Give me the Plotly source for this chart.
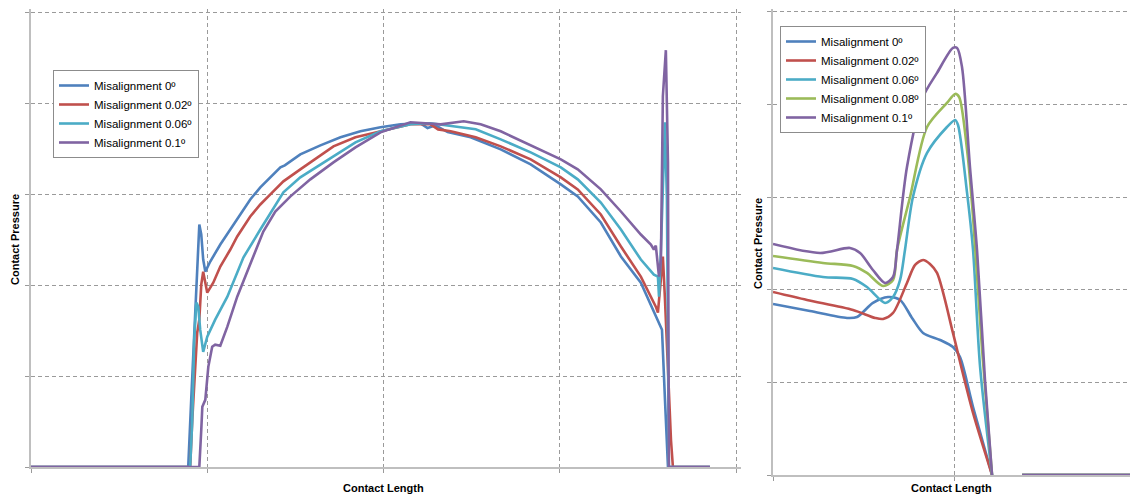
import plotly.graph_objects as go

# ---- Full contact length (left panel) ----
full_x_0 = [0, 8.92, 9.09, 9.26, 9.38, 9.49, 9.55, 9.66, 9.77, 9.89, 10.17, 10.74, 11.31, 11.88, 12.44,
            13.01, 13.58, 14.15, 14.40, 15.28, 16.42, 17.56, 18.69, 19.83, 20.97, 22.10, 22.50, 22.95, 23.64,
            24.94, 26.65, 28.35, 30.06, 31.02, 32.33, 33.47, 34.60, 35.40, 35.80, 35.97, 36.14, 38.52]
full_y_0 = [0, 0, 73.8, 150.9, 205.9, 255.5, 266.5, 255.5, 228.0, 214.7, 225.8, 244.5, 261.0, 277.5, 294.0,
            307.3, 318.3, 329.3, 331.5, 343.6, 353.5, 362.3, 368.9, 373.3, 376.6, 377.7, 372.5, 375.5, 368.0,
            362.3, 349.1, 332.6, 310.6, 297.4, 268.7, 231.3, 202.6, 167.4, 150.9, 73.8, 0, 0]

full_x_002 = [0, 9.03, 9.15, 9.32, 9.43, 9.55, 9.66, 9.77, 9.89, 10.0, 10.34, 10.74, 11.31, 11.70, 12.44,
              13.01, 13.58, 14.32, 15.28, 17.16, 18.41, 19.83, 21.53, 22.67, 23.10, 23.81, 25.23, 26.65, 28.35,
              30.06, 31.02, 32.33, 33.47, 34.60, 35.45, 35.57, 35.68, 35.85, 35.97, 36.14, 36.31, 36.42, 38.52]
full_y_002 = [0, 0, 51.8, 117.8, 147.6, 161.9, 200.4, 214.7, 200.4, 191.6, 202.6, 220.3, 239.0, 253.3, 275.3,
              288.5, 299.6, 313.9, 327.1, 352.4, 362.3, 368.9, 376.6, 376.6, 371.0, 368.9, 362.3, 352.4, 338.1,
              318.3, 305.1, 277.5, 242.3, 209.2, 176.2, 169.6, 194.9, 231.3, 183.9, 106.8, 29.7, 0, 0]

full_x_006 = [0, 9.03, 9.15, 9.26, 9.38, 9.49, 9.60, 9.77, 10.0, 10.45, 11.14, 12.05, 13.01, 14.32, 15.28,
              17.16, 18.41, 19.83, 21.53, 22.67, 23.81, 25.23, 26.65, 28.35, 30.06, 31.02, 32.33, 33.47,
              34.60, 35.34, 35.57, 35.63, 35.74, 35.85, 35.97, 36.08, 36.14, 36.19, 38.52]
full_y_006 = [0, 0, 51.8, 139.9, 180.6, 176.2, 150.9, 126.6, 143.2, 161.9, 187.2, 230.2, 261.0, 301.8, 318.3,
              341.4, 356.8, 368.9, 376.6, 377.7, 374.4, 371.1, 360.1, 345.8, 329.3, 316.1, 290.7, 261.0,
              228.0, 211.4, 209.2, 187.2, 239.0, 316.1, 378.8, 294.0, 150.9, 0, 0]

full_x_01 = [0, 9.55, 9.66, 9.72, 9.89, 10.06, 10.28, 10.45, 10.74, 11.14, 11.70, 12.44, 13.18, 13.86, 14.72,
             15.85, 17.16, 18.41, 19.83, 21.53, 23.24, 24.55, 25.51, 26.65, 28.52, 30.06, 31.02, 32.33,
             33.47, 34.60, 35.17, 35.34, 35.45, 35.63, 35.74, 35.85, 36.02, 36.14, 36.19, 38.52]
full_y_01 = [0, 0, 40.7, 66.1, 73.8, 110.1, 132.2, 134.4, 133.3, 154.2, 187.2, 222.5, 258.8, 280.8, 297.4,
             316.1, 334.8, 351.3, 367.8, 378.8, 376.6, 379.9, 376.6, 368.9, 352.4, 338.1, 327.1, 305.1,
             280.8, 255.5, 244.5, 239.0, 243.4, 209.2, 228.0, 407.5, 458.1, 334.8, 0, 0]

# ---- Contact edge detail (right panel) ----
edge_x_0 = [0, 2.04, 4.09, 4.64, 5.52, 6.35, 7.02, 7.68, 8.29, 9.23, 9.94, 10.33, 11.05, 12.10, None, 13.76, 19.9]
edge_y_0 = [184.7, 177.1, 169.6, 170.6, 185.8, 192.2, 189.0, 169.6, 153.4, 145.8, 138.2, 127.4, 73.4, 0, None, 0, 0]

edge_x_002 = [0, 1.88, 4.42, 5.64, 6.08, 6.63, 7.40, 7.85, 8.29, 8.67, 9.06, 9.94, 10.44, 11.05, 12.10, None, 13.76, 19.9]
edge_y_002 = [197.6, 189.0, 178.2, 169.6, 168.5, 175.0, 207.4, 226.8, 232.2, 227.9, 218.2, 153.4, 113.4, 67.0, 0, None, 0, 0]

edge_x_006 = [0, 2.76, 4.42, 5.19, 6.19, 6.63, 7.02, 7.29, 7.73, 8.51, 9.61, 10.06, 10.22, 10.72, 11.05, 11.44, 12.10, None, 13.76, 19.9]
edge_y_006 = [223.6, 213.8, 211.7, 203.0, 185.8, 192.2, 210.6, 243.0, 300.2, 347.8, 375.8, 383.4, 378.0, 304.6, 243.0, 116.6, 0, None, 0, 0]

edge_x_008 = [0, 2.76, 4.42, 5.19, 6.08, 6.63, 6.85, 7.57, 8.51, 9.61, 10.06, 10.28, 10.72, 11.05, 11.55, 12.10, None, 13.76, 19.9]
edge_y_008 = [236.5, 229.0, 225.7, 218.2, 204.1, 210.6, 243.0, 300.2, 375.8, 401.8, 411.5, 408.2, 351.0, 278.6, 135.0, 0, None, 0, 0]

edge_x_01 = [0, 2.60, 4.25, 4.81, 5.52, 6.19, 6.63, 6.85, 7.40, 8.29, 9.06, 9.94, 10.17, 10.44, 10.88, 11.27, 11.71, 12.10, None, 13.76, 19.9]
edge_y_01 = [249.5, 239.8, 245.2, 239.8, 221.4, 207.4, 213.8, 243.0, 332.6, 408.2, 434.2, 461.2, 461.2, 440.6, 332.6, 243.0, 102.6, 0, None, 0, 0]

names = ["Misalignment 0º", "Misalignment 0.02º", "Misalignment 0.06º", "Misalignment 0.08º", "Misalignment 0.1º"]
colors = ["#4F81BD", "#C0504D", "#4BACC6", "#9BBB59", "#8064A2"]

left_series = [(full_x_0, full_y_0, 0), (full_x_002, full_y_002, 1), (full_x_006, full_y_006, 2), (full_x_01, full_y_01, 4)]
right_series = [(edge_x_0, edge_y_0, 0), (edge_x_002, edge_y_002, 1), (edge_x_006, edge_y_006, 2),
                (edge_x_008, edge_y_008, 3), (edge_x_01, edge_y_01, 4)]

fig = go.Figure()
for xs, ys, k in left_series:
    fig.add_trace(go.Scatter(x=xs, y=ys, mode="lines", name=names[k],
                             line=dict(color=colors[k], width=2.6),
                             xaxis="x", yaxis="y", legend="legend"))
for xs, ys, k in right_series:
    fig.add_trace(go.Scatter(x=xs, y=ys, mode="lines", name=names[k],
                             line=dict(color=colors[k], width=2.6, shape="spline", smoothing=0.8),
                             connectgaps=False,
                             xaxis="x2", yaxis="y2", legend="legend2"))

grid = dict(showgrid=True, gridcolor="#9A9A9A", griddash="4px,3px", gridwidth=1,
            showline=True, linecolor="#BFBFBF", linewidth=1.5,
            ticks="outside", ticklen=4, tickcolor="#9A9A9A", showticklabels=False,
            zeroline=False, fixedrange=True)

# axis ranges padded slightly past the last gridline so the outer dashed lines stay visible
fig.update_layout(
    width=1130, height=496,
    margin=dict(l=0, r=0, t=0, b=0),
    paper_bgcolor="white", plot_bgcolor="white",
    font=dict(family="Liberation Sans, Arial, sans-serif", size=11, color="black"),
    xaxis=dict(domain=[31/1130, 741.3/1130], range=[0, 40.3], dtick=10, **grid),
    yaxis=dict(domain=[29/496, 486.7/496], range=[0, 503], dtick=100, **grid),
    xaxis2=dict(domain=[773/1130, 1.0], range=[0, 19.72], dtick=10, anchor="y2", **grid),
    yaxis2=dict(domain=[21/496, 486.8/496], range=[0, 503], dtick=100, anchor="x2", **grid),
    legend=dict(x=53/1130, y=1-70/496, xanchor="left", yanchor="top",
                bgcolor="white", bordercolor="#8C8C8C", borderwidth=1,
                font=dict(size=11.5), itemwidth=30, tracegroupgap=0),
    legend2=dict(x=780/1130, y=1-26/496, xanchor="left", yanchor="top",
                 bgcolor="white", bordercolor="#8C8C8C", borderwidth=1,
                 font=dict(size=11.5), itemwidth=30, tracegroupgap=0),
    annotations=[
        dict(text="<b>Contact Pressure</b>", textangle=-90, x=15/1130, y=1-240/496,
             xanchor="center", yanchor="middle",
             xref="paper", yref="paper", showarrow=False, font=dict(size=11)),
        dict(text="<b>Contact Length</b>", x=383/1130, y=1-488/496,
             xanchor="center", yanchor="middle",
             xref="paper", yref="paper", showarrow=False, font=dict(size=11)),
        dict(text="<b>Contact Pressure</b>", textangle=-90, x=758/1130, y=1-244/496,
             xanchor="center", yanchor="middle",
             xref="paper", yref="paper", showarrow=False, font=dict(size=11)),
        dict(text="<b>Contact Length</b>", x=951/1130, y=1-488/496,
             xanchor="center", yanchor="middle",
             xref="paper", yref="paper", showarrow=False, font=dict(size=11)),
    ],
)

fig.write_html("out.html")
